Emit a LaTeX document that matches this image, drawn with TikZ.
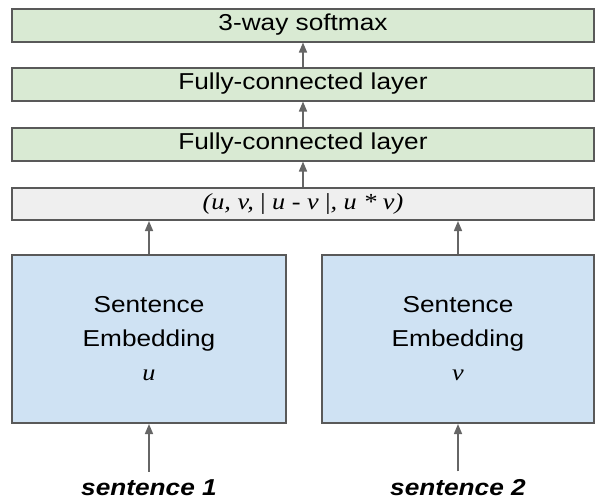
\documentclass[tikz,border=0pt]{standalone}
\usepackage{fontspec}
\setmainfont{Liberation Sans}
\newfontfamily\seriffont{Liberation Serif}
\usepackage{graphicx}
\usetikzlibrary{arrows.meta}
\definecolor{layergreen}{HTML}{D9EAD3}
\definecolor{featgray}{HTML}{EFEFEF}
\definecolor{embblue}{HTML}{CFE2F3}
\definecolor{edgegray}{HTML}{595959}
\definecolor{arrowgray}{HTML}{666666}
\newcommand{\wide}[1]{\scalebox{1.14}[1]{#1}}

\begin{document}
\begin{tikzpicture}
  [x=1pt,y=-1pt,
   every node/.style={font=\fontsize{23}{34}\selectfont},
   layer/.style={draw=edgegray,line width=2pt,fill=layergreen,minimum width=582pt,minimum height=33pt,inner sep=0pt},
   feat/.style={layer,fill=featgray,minimum height=32pt},
   embed/.style={draw=edgegray,line width=2pt,fill=embblue,minimum height=168pt,align=center,inner sep=0pt},
   flow/.style={draw=arrowgray,line width=1.5pt,-{Triangle[length=10pt,width=8pt]}}]
  \useasboundingbox (0,0) rectangle (595,501);

  % classifier layers
  \node[layer] (soft) at (303,25)  {\wide{3-way softmax}};
  \node[layer] (fc1)  at (303,84)  {\wide{Fully-connected layer}};
  \node[layer] (fc2)  at (303,144) {\wide{Fully-connected layer}};
  \node[feat]  (feat) at (303,204) {\wide{\fontsize{23}{26}\selectfont\seriffont\itshape (u, v, {\upshape|} u - v {\upshape|}, u * v)}};

  % the two encoders
  \node[embed,minimum width=274pt] (emb1) at (149,339) {\wide{Sentence}\\\wide{Embedding}\\\wide{\seriffont\itshape u}};
  \node[embed,minimum width=272pt] (emb2) at (458,339) {\wide{Sentence}\\\wide{Embedding}\\\wide{\seriffont\itshape v}};

  \node[anchor=base] (s1) at (149,495) {\wide{\bfseries\itshape sentence 1}};
  \node[anchor=base] (s2) at (458,495) {\wide{\bfseries\itshape sentence 2}};

  \foreach \from/\to in {fc1/soft,fc2/fc1,feat/fc2}
    \draw[flow] (\from) -- (\to);
  \foreach \s/\e in {s1/emb1,s2/emb2}
    \draw[flow,shorten <=4pt] (\s) -- (\e);
  \foreach \e in {emb1,emb2}
    \draw[flow] (\e.north) -- (\e.north |- feat.south);

\end{tikzpicture}
\end{document}
